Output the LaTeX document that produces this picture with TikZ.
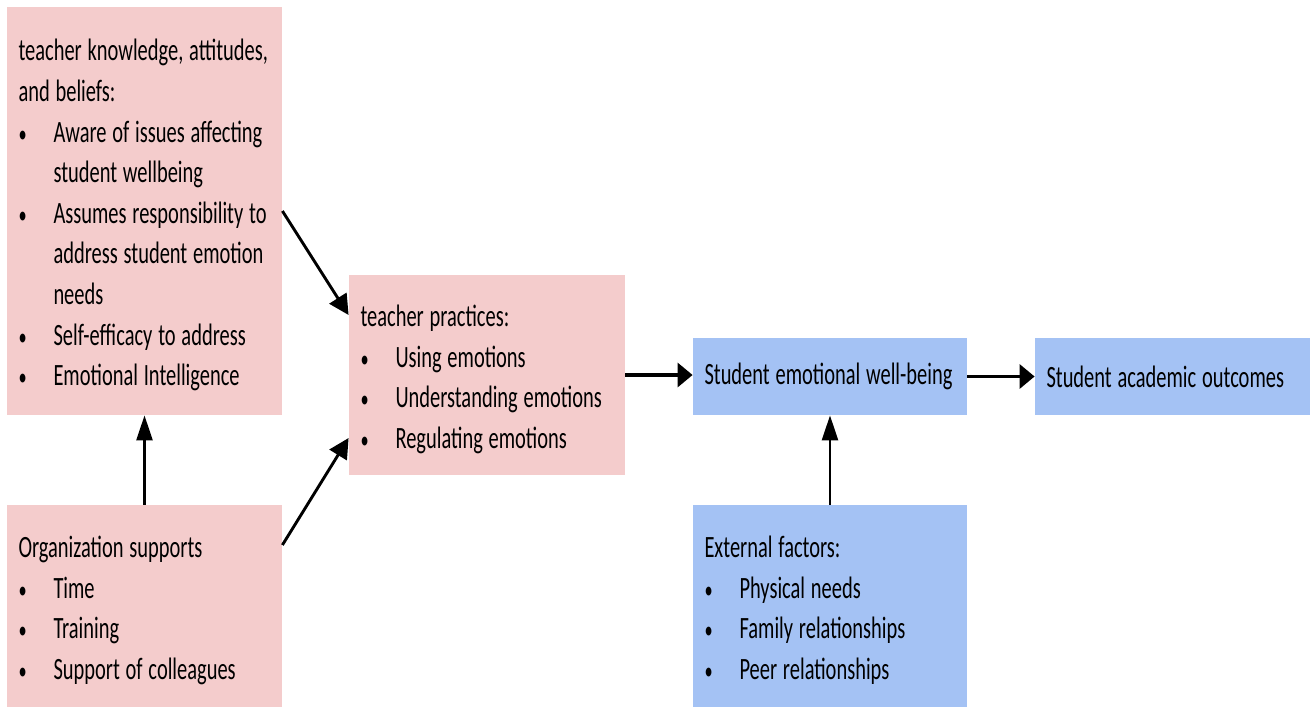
\documentclass[tikz,border=0pt]{standalone}
\usepackage{fontspec}
\setmainfont{Carlito}[FakeStretch=0.66]
\usetikzlibrary{arrows.meta}

\definecolor{pinkbox}{HTML}{F4CCCC}
\definecolor{bluebox}{HTML}{A4C2F4}

\newcommand{\txtline}[1]{\mbox{\spaceskip=2.9pt plus 1pt\relax #1}}
\newcommand{\itemline}[1]{\makebox[17.5pt][l]{\scalebox{.8}{\textbullet}}\txtline{#1}}
\newcommand{\itemcont}[1]{\hspace*{17.5pt}\txtline{#1}}

\tikzset{
  box/.style={rectangle, inner xsep=5.75pt, inner ysep=0pt, align=left,
    font=\fontsize{15.5}{20.3}\selectfont},
  redbox/.style={box, fill=pinkbox},
  bluebx/.style={box, fill=bluebox},
  varr/.style={line width=1.3pt, -{Triangle[length=12.5pt,width=8pt]}},
  harr/.style={line width=1.6pt, -{Triangle[length=7.5pt,width=12pt]}},
  darr/.style={line width=1.45pt, -{Triangle[length=10pt,width=10pt]}}
}

\begin{document}
\begin{tikzpicture}[x=.5pt,y=-.5pt]
\useasboundingbox (0,0) rectangle (1314,707);

\node[redbox, text width=126pt, minimum height=204pt] (know) at (144.5,211)
  {\rule{0pt}{15pt}\txtline{teacher knowledge, attitudes,}\\
   \txtline{and beliefs:}\\
   \itemline{Aware of issues affecting}\\
   \itemcont{student wellbeing}\\
   \itemline{Assumes responsibility to}\\
   \itemcont{address student emotion}\\
   \itemcont{needs}\\
   \itemline{Self-efficacy to address}\\
   \itemline{Emotional Intelligence}};

\node[redbox, text width=126pt, minimum height=101pt] (org) at (144.5,606)
  {\rule{0pt}{15pt}\txtline{Organization supports}\\
   \itemline{Time}\\
   \itemline{Training}\\
   \itemline{Support of colleagues}};

\node[redbox, text width=126.5pt, minimum height=100pt] (prac) at (487,375)
  {\rule{0pt}{15pt}\txtline{teacher practices:}\\
   \itemline{Using emotions}\\
   \itemline{Understanding emotions}\\
   \itemline{Regulating emotions}};

\node[bluebx, text width=125.5pt, minimum height=38.5pt] (well) at (830,376.5)
  {\txtline{Student emotional well-being}};
\node[bluebx, text width=126pt, minimum height=38.5pt] (acad) at (1172.5,376.5)
  {\txtline{Student academic outcomes}};

\node[bluebx, text width=125.5pt, minimum height=101pt] (ext) at (830,606)
  {\rule{0pt}{15pt}\txtline{External factors:}\\
   \itemline{Physical needs}\\
   \itemline{Family relationships}\\
   \itemline{Peer relationships}};

% connectors
\draw[varr] (org) -- (know);
\draw[darr] (know.east) -- ([yshift=30pt]prac.west);
\draw[darr] ([yshift=30.5pt]org.east) -- ([yshift=-31.5pt]prac.west);
\draw[harr] (prac.east) -- (prac.east -| well.west);
\draw[harr] (well) -- (acad);
\draw[varr] (ext) -- (well);

\end{tikzpicture}
\end{document}
